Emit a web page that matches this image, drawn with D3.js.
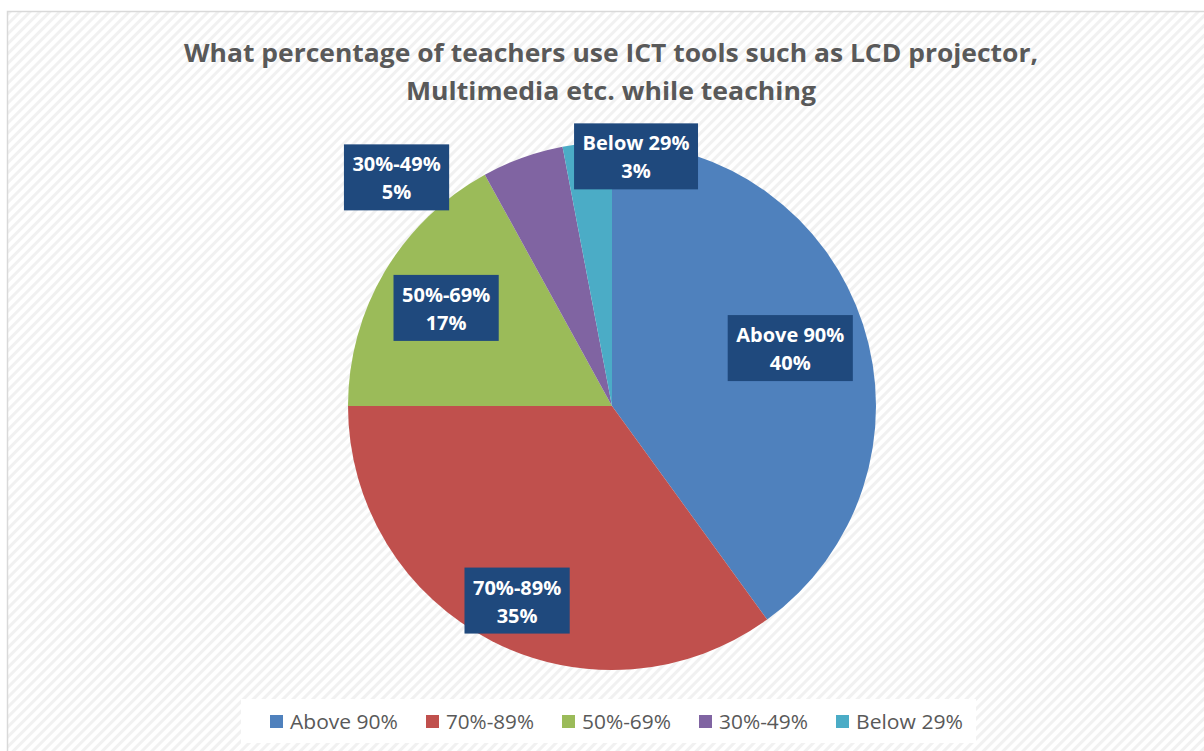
<!DOCTYPE html>
<html>
<head>
<meta charset="utf-8">
<script src="https://cdn.jsdelivr.net/npm/d3@7/dist/d3.min.js"></script>
<style>
  html, body { margin: 0; padding: 0; background: #fff; }
  svg { display: block; }
</style>
</head>
<body>
<svg id="chart" width="1204" height="751"></svg>
<script>
'use strict';

// data
var categories = ["Above 90%", "70%-89%", "50%-69%", "30%-49%", "Below 29%"];
var values = [40, 35, 17, 5, 3];
var titleLines = [
    "What percentage of teachers use ICT tools such as LCD projector,",
    "Multimedia etc. while teaching"
];

var colors = ["#4F81BD", "#C0504D", "#9BBB59", "#8064A2", "#4BACC6"];

// label placement (radius factor, angle shift in degrees) - "best fit" look
var labelPlace = [[0.71, 0], [0.82, -1], [0.73, 0], [1.19, -23.5], [0.95, 10.9]];

var width = 1204,
    height = 751,
    cx = 612,
    cy = 406,
    radius = 264;

var svg = d3.select("#chart");

// striped background
var defs = svg.append("defs");
var pat = defs.append("pattern")
    .attr("id", "stripes")
    .attr("patternUnits", "userSpaceOnUse")
    .attr("width", 7)
    .attr("height", 7)
    .attr("patternTransform", "rotate(45)");
pat.append("rect").attr("width", 7).attr("height", 7).attr("fill", "#ffffff");
pat.append("rect").attr("width", 3).attr("height", 7).attr("fill", "#f1f1f1");

svg.append("rect")
    .attr("x", 7.5).attr("y", 11.5)
    .attr("width", width + 10).attr("height", height + 10)
    .attr("fill", "url(#stripes)")
    .attr("stroke", "#d9d9d9")
    .attr("stroke-width", 1.5);

// title
var title = svg.append("g").attr("font-family", "'Open Sans', sans-serif")
    .attr("font-weight", "bold").attr("font-size", 25).attr("fill", "#595959")
    .attr("text-anchor", "middle");
var titleWidths = [854, 410];
titleLines.forEach(function (t, i) {
    title.append("text")
        .attr("x", 611)
        .attr("y", 62 + i * 38)
        .attr("textLength", titleWidths[i])
        .attr("lengthAdjust", "spacingAndGlyphs")
        .text(t);
});

// pie
var pie = d3.pie().sort(null).value(function (d) { return d; });
var arcs = pie(values);
var arc = d3.arc().innerRadius(0).outerRadius(radius);

var g = svg.append("g").attr("transform", "translate(" + cx + "," + cy + ")");

g.selectAll("path.slice")
    .data(arcs)
    .enter().append("path")
    .attr("class", "slice")
    .attr("d", arc)
    .attr("fill", function (d, i) { return colors[i]; });

// data labels
var labels = g.selectAll("g.label")
    .data(arcs)
    .enter().append("g")
    .attr("class", "label")
    .attr("transform", function (d, i) {
        var a = (d.startAngle + d.endAngle) / 2 + labelPlace[i][1] * Math.PI / 180,
            r = radius * labelPlace[i][0];
        return "translate(" + (r * Math.sin(a)) + "," + (-r * Math.cos(a)) + ")";
    });

labels.each(function (d, i) {
    var lg = d3.select(this);
    var box = lg.append("rect").attr("fill", "#1F497D");
    var txt = lg.append("text")
        .attr("font-family", "'Open Sans', sans-serif")
        .attr("font-weight", "bold")
        .attr("font-size", 20)
        .attr("fill", "#ffffff")
        .attr("text-anchor", "middle");
    txt.append("tspan").attr("x", 0).attr("y", -6).text(categories[i]);
    txt.append("tspan").attr("x", 0).attr("y", 22).text(values[i] + "%");
    var bb = txt.node().getBBox();
    box.attr("x", -bb.width / 2 - 8.5)
        .attr("y", -33)
        .attr("width", bb.width + 17)
        .attr("height", 66);
});

// legend
var legend = svg.append("g");
legend.append("rect")
    .attr("x", 241).attr("y", 699)
    .attr("width", 735).attr("height", 44)
    .attr("fill", "#ffffff");

var legendTextW = [108, 88, 89, 89, 107];
var swatch = 13, textGap = 20, itemGap = 28;
var itemStart = [270];
legendTextW.forEach(function (w, i) {
    if (i < legendTextW.length - 1) itemStart.push(itemStart[i] + textGap + w + itemGap);
});

var items = legend.selectAll("g.item")
    .data(categories)
    .enter().append("g")
    .attr("class", "item")
    .attr("transform", function (d, i) { return "translate(" + itemStart[i] + ",0)"; });

items.append("rect")
    .attr("x", 0).attr("y", 715)
    .attr("width", swatch).attr("height", swatch)
    .attr("fill", function (d, i) { return colors[i]; });

items.append("text")
    .attr("x", textGap)
    .attr("y", 729)
    .attr("font-family", "'Open Sans', sans-serif")
    .attr("font-size", 20)
    .attr("fill", "#595959")
    .attr("textLength", function (d, i) { return legendTextW[i]; })
    .attr("lengthAdjust", "spacingAndGlyphs")
    .text(function (d) { return d; });
</script>
</body>
</html>
